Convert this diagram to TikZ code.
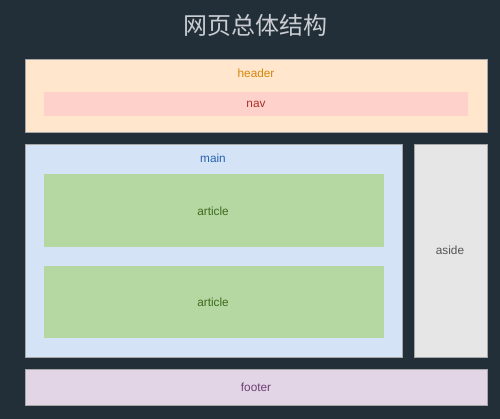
\documentclass[tikz,border=0pt]{standalone}
\usepackage{fontspec}
\setmainfont{Liberation Sans}
\newfontfamily\cjk{Noto Sans CJK SC}
\usepackage{tikz}
\definecolor{bgdark}{HTML}{232F38}
\definecolor{titlegray}{HTML}{C9CDD1}
\definecolor{hdrfill}{HTML}{FFE6CC}
\definecolor{hdrtext}{HTML}{D6870A}
\definecolor{navfill}{HTML}{FFD1CB}
\definecolor{navtext}{HTML}{A8322B}
\definecolor{mainfill}{HTML}{D4E3F6}
\definecolor{maintext}{HTML}{2962B0}
\definecolor{artfill}{HTML}{B5D7A1}
\definecolor{arttext}{HTML}{3E6B1E}
\definecolor{asidefill}{HTML}{E6E6E6}
\definecolor{asidetext}{HTML}{555555}
\definecolor{footfill}{HTML}{E2D5E6}
\definecolor{foottext}{HTML}{6E3E73}
\tikzset{
  boxline/.style={draw=gray!70,line width=0.6pt},
  lbl/.style={font=\fontsize{11.8}{14}\selectfont,inner sep=0pt}
}
\begin{document}
\begin{tikzpicture}[x=1pt,y=-1pt]
\fill[bgdark](0,0)rectangle(500,419);
\useasboundingbox(0,0)rectangle(500,419);
%title
\node[font=\cjk\fontsize{24}{28}\selectfont,text=titlegray](title)at(255,25){网页总体结构};
%header with nav
\draw[boxline,fill=hdrfill](25,59)rectangle(487,132);
\fill[navfill](44,92)rectangle(468,116);
\node[lbl,text=hdrtext](header)at(256,73){header};
\node[lbl,text=navtext](nav)at(256,104){nav};
%main with two articles
\draw[boxline,fill=mainfill](25,144)rectangle(402,357);
\fill[artfill](44,174)rectangle(384,247);
\fill[artfill](44,266)rectangle(384,338);
\node[lbl,text=maintext](main)at(213,158){main};
\node[lbl,text=arttext](art1)at(213,211){article};
\node[lbl,text=arttext](art2)at(213,302){article};
%aside
\draw[boxline,fill=asidefill](414,144)rectangle(487,357);
\node[lbl,text=asidetext](aside)at(450,250){aside};
%footer
\draw[boxline,fill=footfill](25,369)rectangle(487,405);
\node[lbl,text=foottext](footer)at(256,387){footer};
\end{tikzpicture}
\end{document}
